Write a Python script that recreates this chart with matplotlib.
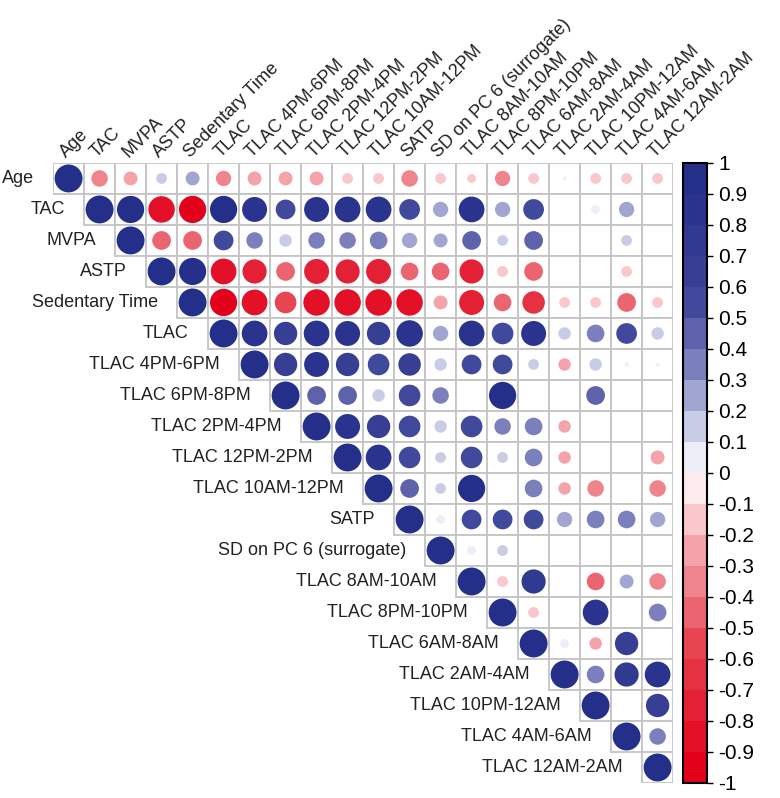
import numpy as np
import matplotlib.pyplot as plt
import matplotlib as mpl
from matplotlib.colors import LinearSegmentedColormap, BoundaryNorm
from matplotlib.patches import Circle, Rectangle

plt.rcParams['font.family'] = ['Liberation Sans', 'DejaVu Sans']

labels = ["Age", "TAC", "MVPA", "ASTP", "Sedentary Time", "TLAC",
          "TLAC 4PM-6PM", "TLAC 6PM-8PM", "TLAC 2PM-4PM", "TLAC 12PM-2PM",
          "TLAC 10AM-12PM", "SATP", "SD on PC 6 (surrogate)", "TLAC 8AM-10AM",
          "TLAC 8PM-10PM", "TLAC 6AM-8AM", "TLAC 2AM-4AM", "TLAC 10PM-12AM",
          "TLAC 4AM-6AM", "TLAC 12AM-2AM"]

# upper triangle of the correlation matrix, each row starts at the diagonal
corr_rows = [
    [1, -0.35, -0.25, 0.15, 0.25, -0.3, -0.25, -0.25, -0.25, -0.15, -0.15, -0.35, -0.15, -0.1, -0.3, -0.15, -0.02, -0.15, -0.15, -0.15],
    [1, 0.95, -0.9, -0.95, 0.95, 0.8, 0.5, 0.8, 0.85, 0.85, 0.55, 0.3, 0.85, 0.3, 0.55, 0.0, 0.1, 0.3, 0.0],
    [1, -0.45, -0.45, 0.5, 0.35, 0.2, 0.35, 0.35, 0.4, 0.3, 0.25, 0.45, 0.15, 0.45, 0.0, 0.0, 0.15, 0.0],
    [1, 0.95, -0.85, -0.75, -0.45, -0.8, -0.75, -0.8, -0.4, -0.4, -0.75, -0.15, -0.45, 0.0, 0.0, -0.15, 0.0],
    [1, -0.95, -0.85, -0.6, -0.9, -0.9, -0.9, -0.9, -0.25, -0.8, -0.4, -0.65, -0.15, -0.15, -0.45, -0.15],
    [1, 0.85, 0.7, 0.85, 0.8, 0.7, 0.9, 0.3, 0.85, 0.6, 0.8, 0.2, 0.4, 0.55, 0.2],
    [1, 0.7, 0.8, 0.7, 0.6, 0.65, 0.2, 0.5, 0.5, 0.15, -0.2, 0.2, 0.02, 0.02],
    [1, 0.45, 0.45, 0.2, 0.6, 0.35, 0.0, 0.95, 0.0, 0.0, 0.45, 0.0, 0.0],
    [1, 0.8, 0.7, 0.6, 0.2, 0.6, 0.35, 0.4, -0.2, 0.0, 0.0, 0.0],
    [1, 0.85, 0.6, 0.15, 0.6, 0.15, 0.4, -0.2, 0.0, 0.0, -0.25],
    [1, 0.45, 0.15, 0.95, 0.0, 0.4, -0.2, -0.35, 0.0, -0.35],
    [1, 0.1, 0.5, 0.5, 0.5, 0.3, 0.4, 0.4, 0.3],
    [1, 0.1, 0.15, 0.0, 0.0, 0.0, 0.0, 0.0],
    [1, -0.15, 0.75, 0.0, -0.4, 0.25, -0.35],
    [1, -0.15, 0.0, 0.85, 0.0, 0.4],
    [1, 0.1, -0.2, 0.7, 0.0],
    [1, 0.4, 0.75, 0.85],
    [1, 0.0, 0.7],
    [1, 0.35],
    [1],
]

cmap = LinearSegmentedColormap.from_list("rb", [
    (0.0, "#E2001A"), (0.2, "#E6404D"), (0.3, "#EE7B85"), (0.4, "#F7B9C0"),
    (0.5, "#FFFFFF"), (0.6, "#B9BCDF"), (0.7, "#6E72B5"), (0.8, "#3A4397"),
    (1.0, "#242F8A")])
bounds = np.linspace(-1, 1, 21)
norm = BoundaryNorm(bounds, cmap.N)

n = len(labels)
fig = plt.figure(figsize=(7.8, 7.98), dpi=100)
ax = fig.add_axes([0.068, 0.0188, 0.795, 0.777])
ax.set_xlim(0, n)
ax.set_ylim(n, 0)
ax.set_aspect('equal')
ax.axis('off')

for i, row in enumerate(corr_rows):
    for k, r in enumerate(row):
        j = i + k
        ax.add_patch(Rectangle((j, i), 1, 1, facecolor='white',
                               edgecolor='#C4C4C4', lw=1.3, zorder=1))
        if abs(r) > 0.005:
            ax.add_patch(Circle((j + 0.5, i + 0.5), 0.45 * np.sqrt(abs(r)),
                                color=cmap(norm(r)), lw=0, zorder=2))

# row labels next to the diagonal
for i, lab in enumerate(labels):
    ax.text(i - 0.62, i + 0.5, lab, ha='right', va='center', fontsize=13,
            color='#222222')

# column labels on top
for j, lab in enumerate(labels):
    ax.text(j + 0.42, -0.15, lab, rotation=45, rotation_mode='anchor',
            ha='left', va='baseline', fontsize=13, color='#222222')

cax = fig.add_axes([0.876, 0.0188, 0.031, 0.777])
cb = mpl.colorbar.ColorbarBase(cax, cmap=cmap, norm=norm, boundaries=bounds,
                               orientation='vertical')
ticks = np.round(np.linspace(-1, 1, 21), 1)
cb.set_ticks(ticks)
cb.set_ticklabels([f"{t:g}" for t in ticks])
cb.ax.tick_params(labelsize=15, length=4, width=1)
cb.outline.set_linewidth(1.5)

plt.savefig("out.png", dpi=100)
